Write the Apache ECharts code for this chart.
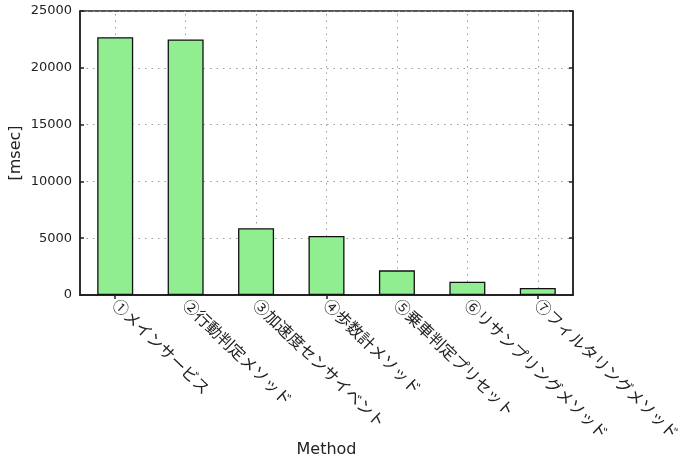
<!DOCTYPE html>
<html>
<head>
<meta charset="utf-8">
<script src="https://cdn.jsdelivr.net/npm/echarts@6/dist/echarts.min.js"></script>
<style>
html,body{margin:0;padding:0;background:#fff;}
#chart{width:681px;height:458px;}
</style>
</head>
<body>
<div id="chart"></div>
<script>
const categories = ["①メインサービス","②行動判定メソッド","③加速度センサイベント","④歩数計メソッド","⑤乗車判定プリセット","⑥リサンプリングメソッド","⑦フィルタリングメソッド"];
const values = [22700, 22500, 5870, 5200, 2170, 1170, 620];
const yTicks = [0, 5000, 10000, 15000, 20000, 25000];
const yTitle = "[msec]";
const xTitle = "Method";

const chart = echarts.init(document.getElementById('chart'), null, {renderer:'canvas'});
const gridDot = {color:'#9a9a9a', width:1, type:[1.5,5]};
chart.setOption({
  animation:false,
  backgroundColor:'#fff',
  grid:{left:80, right:108, top:11, bottom:163, containLabel:false, outerBoundsMode:'none', show:true, borderColor:'#222', borderWidth:1.5, backgroundColor:'transparent'},
  xAxis:[{
    type:'category', data:categories, position:'bottom',
    axisLine:{show:true, lineStyle:{color:'#222', width:1.5}},
    axisTick:{show:false},
    axisLabel:{interval:0, rotate:-44, margin:7, color:'#222', fontSize:16, fontFamily:'"Noto Sans CJK JP", sans-serif'},
    splitLine:{show:false},
    name:xTitle, nameLocation:'middle', nameGap:147, nameMoveOverlap:false,
    nameTextStyle:{fontSize:16, color:'#222', fontFamily:'"DejaVu Sans", sans-serif'}
  },{
    type:'category', data:categories, position:'top',
    axisLine:{show:true, lineStyle:{color:'#222', width:1.5}},
    axisTick:{show:true, inside:true, alignWithLabel:true, length:4, lineStyle:{color:'#222', width:1.5}},
    axisLabel:{show:false}, splitLine:{show:false}
  }],
  yAxis:[{
    type:'value', min:0, max:25000, interval:5000, position:'left',
    axisLine:{show:true, lineStyle:{color:'#222', width:1.5}},
    axisTick:{show:true, inside:true, length:4, lineStyle:{color:'#222', width:1.5}},
    axisLabel:{color:'#222', fontSize:13, margin:8, fontFamily:'"DejaVu Sans", sans-serif',
      formatter:function(v){ return yTicks.indexOf(v) >= 0 ? String(v) : ''; }},
    splitLine:{show:true, lineStyle:gridDot},
    name:yTitle, nameLocation:'middle', nameGap:56, nameRotate:90, nameMoveOverlap:false,
    nameTextStyle:{fontSize:16, color:'#222', fontFamily:'"DejaVu Sans", sans-serif'}
  },{
    type:'value', min:0, max:25000, interval:5000, position:'right',
    axisLine:{show:true, lineStyle:{color:'#222', width:1.5}},
    axisTick:{show:true, inside:true, length:4, lineStyle:{color:'#222', width:1.5}},
    axisLabel:{show:false}, splitLine:{show:false}
  }],
  series:[{
    type:'bar', data:values, xAxisIndex:0, yAxisIndex:0, barWidth:36, z:3,
    itemStyle:{color:'#90EE90', borderColor:'#111', borderWidth:1.3},
    markLine:{silent:true, symbol:'none', z:1, label:{show:false},
      lineStyle:gridDot,
      data:categories.map(function(c){ return {xAxis:c}; })}
  }]
});
</script>
</body>
</html>
